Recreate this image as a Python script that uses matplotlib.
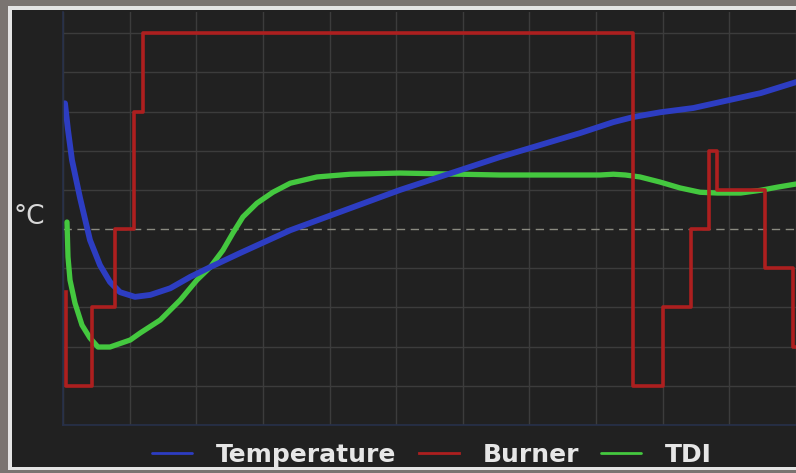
import matplotlib.pyplot as plt
from matplotlib.patches import Rectangle

# time axis in grid units, values in grid units (one grid step = one unit)
temp_t = [0.0, 0.03, 0.075, 0.135, 0.255, 0.405, 0.555, 0.705, 0.855, 1.08, 1.31, 1.61,
          1.91, 2.21, 2.66, 3.41, 5.06, 6.56, 7.76, 8.26, 8.56, 8.96, 9.46, 10.47, 11.0]
temp_v = [8.2, 8.21, 7.53, 6.76, 5.8, 4.72, 4.08, 3.65, 3.39, 3.27, 3.32, 3.49,
          3.78, 4.03, 4.39, 4.97, 6.0, 6.84, 7.45, 7.73, 7.86, 7.98, 8.09, 8.47, 8.75]

tdi_t = [0.06, 0.075, 0.105, 0.18, 0.285, 0.405, 0.525, 0.705, 1.01, 1.16, 1.46, 1.76,
         2.01, 2.21, 2.40, 2.55, 2.70, 2.91, 3.15, 3.41, 3.81, 4.31, 5.06, 6.56, 8.06, 8.26,
         8.44, 8.66, 8.96, 9.26, 9.56, 9.82, 10.17, 10.47, 10.72, 11.0]
tdi_v = [5.18, 4.29, 3.70, 3.11, 2.55, 2.22, 1.99, 1.99, 2.17, 2.35, 2.68, 3.19,
         3.70, 4.03, 4.46, 4.90, 5.31, 5.66, 5.94, 6.17, 6.33, 6.40, 6.43, 6.38, 6.38, 6.40,
         6.38, 6.33, 6.20, 6.05, 5.94, 5.92, 5.92, 5.99, 6.07, 6.15]

burner_t = [0.045, 0.045, 0.435, 0.78, 1.07, 1.20, 8.56, 9.01, 9.43, 9.70, 9.82, 10.53, 10.96, 11.0]
burner_v = [3.4, 1.0, 3.0, 5.0, 8.0, 10.0, 1.0, 3.0, 5.0, 7.0, 6.0, 4.0, 2.0, 2.0]

ref_level = 5.0

W, H = 796, 473
fig = plt.figure(figsize=(W / 100, H / 100), dpi=100)
fig.patch.set_facecolor("#7a7471")

# panel with light border, kept behind the axes
fig.patches.append(Rectangle((8 / W, 3 / H), 1, (H - 9) / H, transform=fig.transFigure,
                             facecolor="#e4e4e4", edgecolor="none", zorder=-10))
fig.patches.append(Rectangle((12 / W, 6 / H), 1, (H - 16) / H, transform=fig.transFigure,
                             facecolor="#212121", edgecolor="none", zorder=-9))

ax = fig.add_axes([63 / W, (H - 425) / H, (W - 63) / W, (425 - 12) / H])
ax.set_facecolor("#212121")
ax.set_xlim(0, 11.0)
ax.set_ylim(0, 10.54)
ax.set_xticks(range(0, 12))
ax.set_yticks([v for v in range(0, 11) if v != ref_level])
ax.grid(True, color="#3c3c3c", linewidth=1.0)
ax.set_axisbelow(True)
ax.tick_params(length=0, labelbottom=False, labelleft=False)
for side in ["top", "right"]:
    ax.spines[side].set_visible(False)
for side in ["left", "bottom"]:
    ax.spines[side].set_color("#27304a")
    ax.spines[side].set_linewidth(1.2)

ax.axhline(ref_level, color="#8a8a80", linewidth=1.0, linestyle=(0, (6, 4)), zorder=1)

ax.plot(tdi_t, tdi_v, color="#44c83f", linewidth=3.8, solid_capstyle="round", label="TDI")
ax.plot(temp_t, temp_v, color="#2d3dc2", linewidth=4.2, solid_capstyle="round", label="Temperature")
ax.plot(burner_t, burner_v, color="#ad1f1f", linewidth=2.6, drawstyle="steps-post", label="Burner")

fig.text(14 / W, 1 - 217 / H, "°C", color="#d8d8d8", fontsize=19, va="center", ha="left")

handles, labels = ax.get_legend_handles_labels()
order = [1, 2, 0]
leg = fig.legend([handles[i] for i in order], [labels[i] for i in order],
                 loc="center", bbox_to_anchor=(432 / W, 1 - 455 / H), ncol=3,
                 frameon=False, prop={"family": "DejaVu Sans", "weight": "bold", "size": 18},
                 handlelength=1.6, handletextpad=0.95, columnspacing=0.9)
for line in leg.get_lines():
    line.set_linewidth(2.0)
for txt in leg.get_texts():
    txt.set_color("#e6e6e6")

fig.savefig("out.png", dpi=100, facecolor=fig.get_facecolor())
